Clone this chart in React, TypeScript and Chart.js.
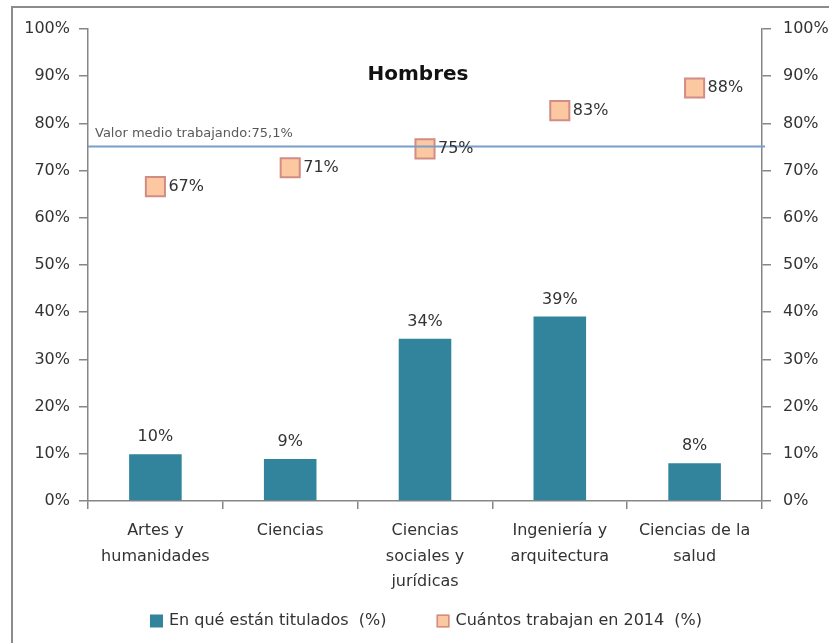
import React, { useEffect, useRef } from 'react';
import { Chart, registerables } from 'chart.js';

Chart.register(...registerables);

const FONT = "'DejaVu Sans', sans-serif";

const categories: string[][] = [
  ['Artes y', 'humanidades'],
  ['Ciencias'],
  ['Ciencias', 'sociales y', 'jurídicas'],
  ['Ingeniería y', 'arquitectura'],
  ['Ciencias de la', 'salud'],
];
const tituladosLabel = 'En qué están titulados  (%)';
const trabajanLabel = 'Cuántos trabajan en 2014  (%)';
const tituladosValues = [9.9, 8.9, 34.4, 39.1, 8.0];
const trabajanValues = [66.6, 70.6, 74.6, 82.7, 87.5];
const mediaTrabajando = 75.1;
const mediaLabel = 'Valor medio trabajando:75,1%';
const chartTitle = 'Hombres';
const yMin = 0;
const yMax = 100;
const yStep = 10;

const BAR_COLOR = '#31849B';
const MARK_FILL = '#FBC8A2';
const MARK_BORDER = '#D38C84';
const AXIS_COLOR = '#868686';
const TEXT_COLOR = '#333333';

const pct = (v: number) => Math.round(v) + '%';

export default function App() {
  const ref = useRef<HTMLCanvasElement>(null);

  useEffect(() => {
    const canvas = ref.current;
    if (!canvas) return;

    const decor = {
      id: 'decor',
      beforeDraw(chart: any) {
        const { ctx, width, height } = chart;
        ctx.save();
        ctx.fillStyle = '#ffffff';
        ctx.fillRect(0, 0, width, height);
        ctx.strokeStyle = '#8c8c8c';
        ctx.lineWidth = 2;
        ctx.strokeRect(12, 7, width + 20, height + 20);
        ctx.restore();
      },
      afterDatasetsDraw(chart: any) {
        const { ctx, chartArea } = chart;
        const y = chart.scales.y;
        ctx.save();
        // mean line
        const my = y.getPixelForValue(mediaTrabajando);
        ctx.strokeStyle = '#7B9DC8';
        ctx.lineWidth = 2;
        ctx.beginPath();
        ctx.moveTo(chartArea.left, my);
        ctx.lineTo(chartArea.right + 3, my);
        ctx.stroke();
        ctx.font = `13px ${FONT}`;
        ctx.fillStyle = '#595959';
        ctx.textAlign = 'left';
        ctx.textBaseline = 'middle';
        ctx.fillText(mediaLabel, chartArea.left + 7, my - 13);

        // title
        ctx.font = `bold 20px ${FONT}`;
        ctx.fillStyle = '#111111';
        ctx.textAlign = 'center';
        ctx.fillText(chartTitle, (chartArea.left + chartArea.right) / 2 - 7, chartArea.top + 46);

        // data labels
        ctx.font = `16px ${FONT}`;
        ctx.fillStyle = TEXT_COLOR;
        chart.getDatasetMeta(0).data.forEach((el: any, i: number) => {
          ctx.textAlign = 'center';
          ctx.fillText(pct(tituladosValues[i]), el.x, el.y - 17);
        });
        chart.getDatasetMeta(1).data.forEach((el: any, i: number) => {
          ctx.textAlign = 'left';
          ctx.fillText(pct(trabajanValues[i]), el.x + 13, el.y);
        });

        // legend
        const items = chart.data.datasets.map((ds: any) => ({
          label: ds.label,
          fill: ds.type === 'line' ? ds.pointBackgroundColor : ds.backgroundColor,
          stroke: ds.type === 'line' ? ds.pointBorderColor : null,
        }));
        const box = 13;
        const gapText = 6;
        const gapItems = 50;
        const widths = items.map((it: any) => ctx.measureText(it.label).width);
        let total = 0;
        widths.forEach((w: number, i: number) => {
          total += box + gapText + w + (i > 0 ? gapItems : 0);
        });
        const cx = (chartArea.left + chartArea.right) / 2 + 1;
        const ly = chartArea.bottom + 120;
        let x = cx - total / 2;
        items.forEach((it: any, i: number) => {
          ctx.fillStyle = it.fill;
          ctx.fillRect(x, ly - box / 2, box, box);
          if (it.stroke) {
            ctx.strokeStyle = it.stroke;
            ctx.lineWidth = 1.5;
            ctx.strokeRect(x + 0.75, ly - box / 2 + 0.75, box - 1.5, box - 1.5);
          }
          ctx.fillStyle = TEXT_COLOR;
          ctx.textAlign = 'left';
          ctx.fillText(it.label, x + box + gapText, ly);
          x += box + gapText + widths[i] + gapItems;
        });
        ctx.restore();
      },
    };

    const yTickCfg = {
      stepSize: yStep,
      callback: (v: any) => v + '%',
      font: { family: FONT, size: 16 },
      color: TEXT_COLOR,
    };

    const chart = new Chart(canvas, {
      type: 'bar',
      data: {
        labels: categories,
        datasets: [
          {
            type: 'bar',
            label: tituladosLabel,
            data: tituladosValues,
            backgroundColor: BAR_COLOR,
            barPercentage: 0.39,
            categoryPercentage: 1,
            yAxisID: 'y',
            order: 1,
          } as any,
          {
            type: 'line',
            label: trabajanLabel,
            data: trabajanValues,
            showLine: false,
            pointStyle: 'rect',
            pointRadius: 13.5,
            pointBackgroundColor: MARK_FILL,
            pointBorderColor: MARK_BORDER,
            pointBorderWidth: 2,
            yAxisID: 'y2',
            order: 0,
          } as any,
        ],
      },
      options: {
        animation: false,
        responsive: false,
        layout: { padding: { top: 29, left: 0, right: 0, bottom: 0 } },
        plugins: {
          legend: { display: false },
          tooltip: { enabled: false },
          title: { display: false },
        },
        scales: {
          x: {
            type: 'category',
            offset: true,
            grid: {
              offset: true,
              drawOnChartArea: false,
              drawTicks: true,
              tickLength: 8,
              color: AXIS_COLOR,
              lineWidth: 1.5,
            },
            border: { color: AXIS_COLOR, width: 1.5 },
            ticks: {
              font: { family: FONT, size: 16, lineHeight: 1.6 },
              color: TEXT_COLOR,
              padding: 9,
              maxRotation: 0,
              minRotation: 0,
              autoSkip: false,
            },
            afterFit(s: any) {
              s.height = 142;
            },
          },
          y: {
            position: 'left',
            min: yMin,
            max: yMax,
            ticks: { ...yTickCfg, padding: 9 },
            grid: { drawOnChartArea: false, tickLength: 9, color: AXIS_COLOR, lineWidth: 1.5 },
            border: { color: AXIS_COLOR, width: 1.5 },
            afterFit(s: any) {
              s.width = 88;
            },
          },
          y2: {
            position: 'right',
            min: yMin,
            max: yMax,
            ticks: { ...yTickCfg, padding: 12 },
            grid: { drawOnChartArea: false, tickLength: 9, color: AXIS_COLOR, lineWidth: 1.5 },
            border: { color: AXIS_COLOR, width: 1.5 },
            afterFit(s: any) {
              s.width = 67;
            },
          },
        },
      } as any,
      plugins: [decor],
    });

    return () => chart.destroy();
  }, []);

  return (
    <div style={{ position: 'absolute', left: 0, top: 0, width: 829, height: 643 }}>
      <canvas ref={ref} width={829} height={643} style={{ width: 829, height: 643, display: 'block' }} />
    </div>
  );
}
